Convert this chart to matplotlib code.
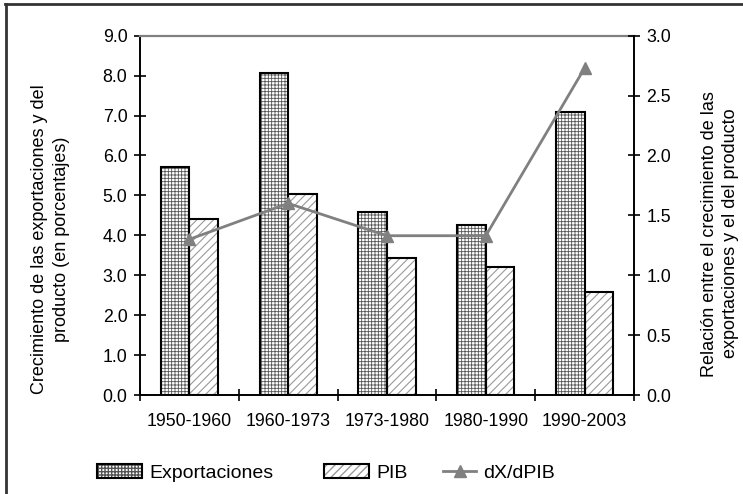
import matplotlib
matplotlib.use("Agg")
import matplotlib.pyplot as plt
from matplotlib.patches import Patch
from matplotlib.lines import Line2D
import numpy as np

plt.rcParams['font.family'] = ['Liberation Sans', 'DejaVu Sans']

periodos = ['1950-1960', '1960-1973', '1973-1980', '1980-1990', '1990-2003']
exportaciones = [5.72, 8.07, 4.58, 4.27, 7.09]
pib = [4.40, 5.03, 3.42, 3.21, 2.59]
ratio = [1.30, 1.60, 1.33, 1.33, 2.73]

left_ticks = [0.0, 1.0, 2.0, 3.0, 4.0, 5.0, 6.0, 7.0, 8.0, 9.0]
right_ticks = [0.0, 0.5, 1.0, 1.5, 2.0, 2.5, 3.0]

EXP_HATCH = '+++++'
PIB_HATCH = '////'

fig = plt.figure(figsize=(7.43, 4.94), dpi=100)
ax1 = fig.add_axes([0.1884, 0.2004, 0.6649, 0.7273])

x = np.arange(len(periodos))
w = 0.29

# hatch layers first (no outline), then black outlines on top
with plt.rc_context({'hatch.linewidth': 0.6}):
    ax1.bar(x - w / 2, exportaciones, w, color='white', edgecolor='#555555',
            linewidth=0, hatch=EXP_HATCH, zorder=2)
with plt.rc_context({'hatch.linewidth': 0.8}):
    ax1.bar(x + w / 2, pib, w, color='white', edgecolor='#9a9a9a',
            linewidth=0, hatch=PIB_HATCH, zorder=2)
ax1.bar(x - w / 2, exportaciones, w, fill=False, edgecolor='black', linewidth=1.5, zorder=3)
ax1.bar(x + w / 2, pib, w, fill=False, edgecolor='black', linewidth=1.5, zorder=3)

ax1.set_xlim(-0.5, len(periodos) - 0.5)
ax1.set_ylim(0, 9)
ax1.set_yticks(left_ticks)
ax1.set_yticklabels([f'{v:.1f}' for v in left_ticks])
ax1.set_xticks(np.arange(len(periodos) + 1) - 0.5)
ax1.set_xticklabels([])
ax1.set_xticks(x, minor=True)
ax1.set_xticklabels(periodos, minor=True)
ax1.tick_params(axis='x', which='major', direction='inout', length=9, width=1.2)
ax1.tick_params(axis='x', which='minor', length=0, pad=13, labelsize=12.8)
ax1.tick_params(axis='y', direction='inout', length=8, width=1.2, pad=5, labelsize=12.8)

for side in ['left', 'bottom']:
    ax1.spines[side].set_linewidth(1.4)
    ax1.spines[side].set_color('black')
ax1.spines['top'].set_color('#808080')
ax1.spines['top'].set_linewidth(1.6)
ax1.spines['right'].set_visible(False)

ax2 = ax1.twinx()
ax2.plot(x, ratio, color='#808080', linewidth=2, marker='^', markersize=9,
         markerfacecolor='#808080', markeredgecolor='#808080', zorder=4)
ax2.set_ylim(0, 3)
ax2.set_yticks(right_ticks)
ax2.set_yticklabels([f'{v:.1f}' for v in right_ticks])
ax2.tick_params(axis='y', direction='inout', length=8, width=1.2, pad=5, labelsize=12.8)
ax2.spines['right'].set_linewidth(1.4)
for side in ['top', 'left', 'bottom']:
    ax2.spines[side].set_visible(False)

fig.text(0.068, 0.516, 'Crecimiento de las exportaciones y del\nproducto (en porcentajes)',
         rotation=90, ha='center', va='center', fontsize=13, multialignment='center',
         linespacing=1.35)
fig.text(0.969, 0.527, 'Relación entre el crecimiento de las\nexportaciones y el del producto',
         rotation=90, ha='center', va='center', fontsize=13, multialignment='center',
         linespacing=1.25)

# legend: one entry per box so each can sit where it belongs
h_exp = (Patch(facecolor='white', edgecolor='#555555', hatch=EXP_HATCH, linewidth=0),
         Patch(fill=False, edgecolor='black', linewidth=1.5))
h_pib = (Patch(facecolor='white', edgecolor='#9a9a9a', hatch=PIB_HATCH, linewidth=0),
         Patch(fill=False, edgecolor='black', linewidth=1.5))
h_ratio = Line2D([], [], color='#808080', linewidth=2, marker='^', markersize=9)
entries = [(h_exp, 'Exportaciones', 97, 2.3), (h_pib, 'PIB', 324, 2.3),
           (h_ratio, 'dX/dPIB', 443, 1.7)]
for handle, label, x0, hl in entries:
    fig.legend([handle], [label], loc='center left',
               bbox_to_anchor=(x0 / 743, 1 - 473 / 494), frameon=False,
               fontsize=14, handlelength=hl, handleheight=0.7, handletextpad=0.37,
               borderpad=0, borderaxespad=0)

# chart frame, open on the right and bottom edges
fig.add_artist(Line2D([5 / 743, 1], [1 - 4 / 494, 1 - 4 / 494], color='#333333',
                      linewidth=2, transform=fig.transFigure))
fig.add_artist(Line2D([5.5 / 743, 5.5 / 743], [0, 1 - 4 / 494], color='#333333',
                      linewidth=2, transform=fig.transFigure))

fig.savefig('out.png', dpi=100)
